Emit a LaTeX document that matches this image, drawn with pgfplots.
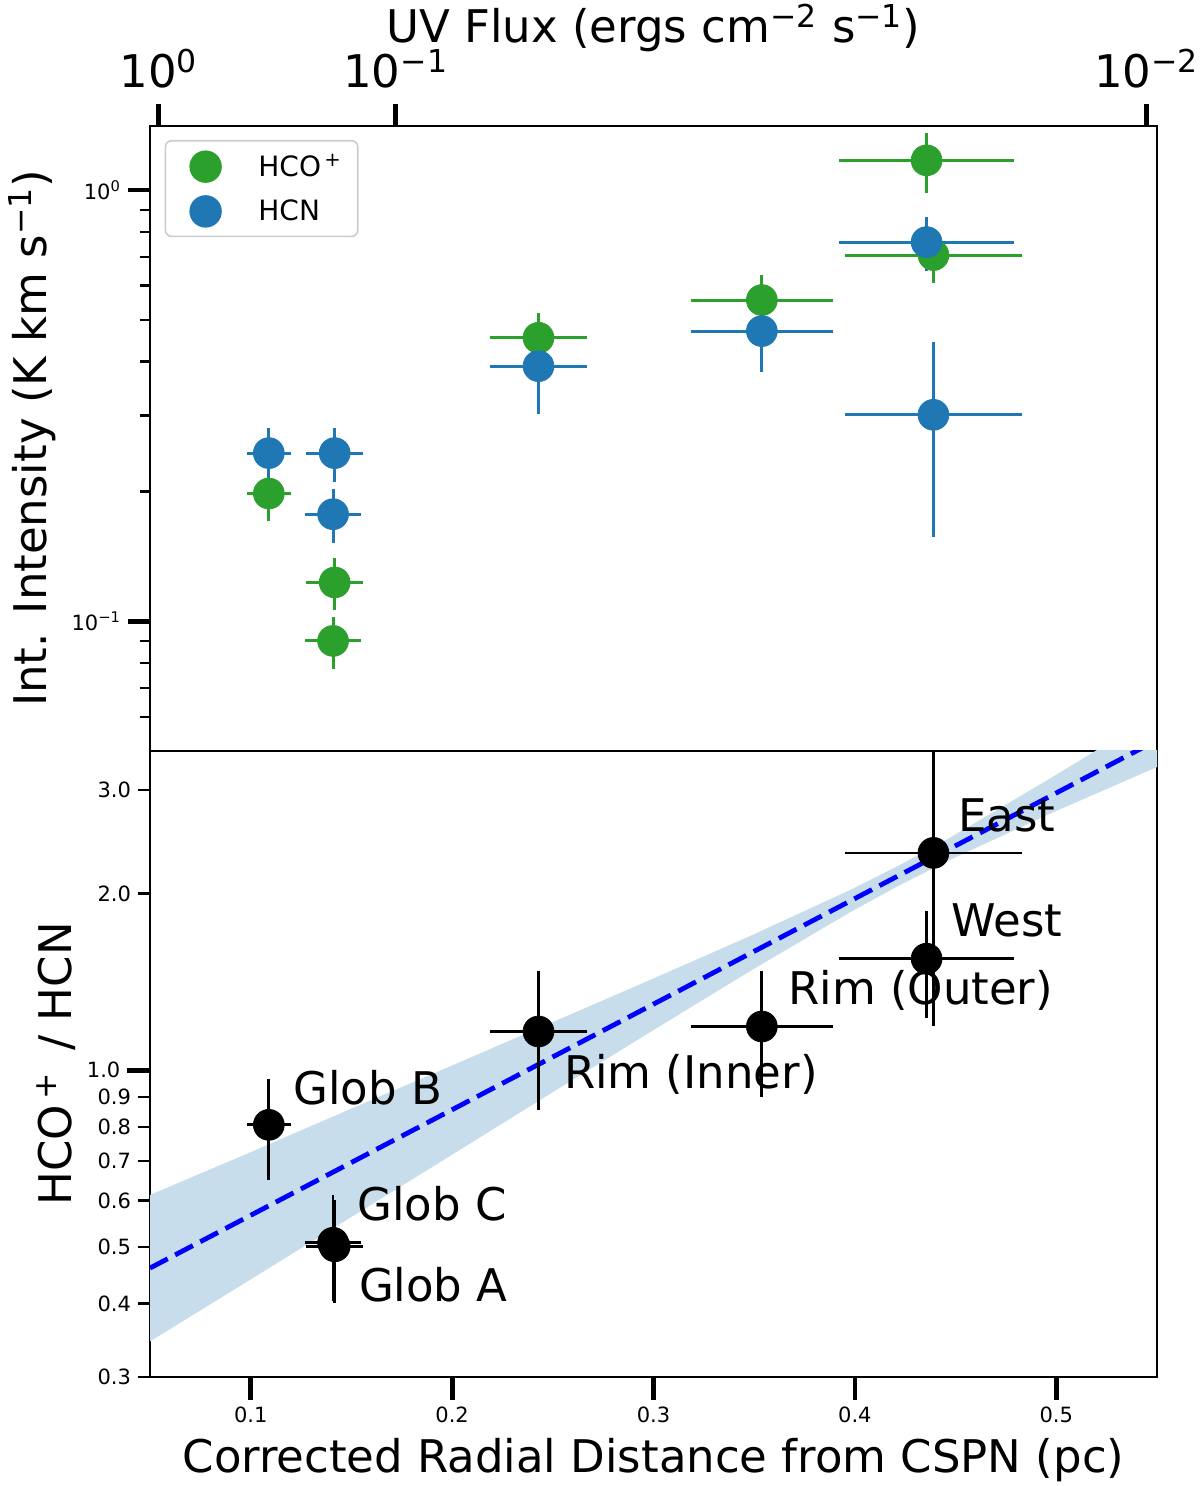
\documentclass[border=0pt]{standalone}
\usepackage{fontspec}
\setmainfont{DejaVu Sans}
\usepackage{pgfplots}
\usepackage{pgfplotstable}
\pgfplotsset{compat=1.18}

\definecolor{hcogreen}{HTML}{2CA02C}
\definecolor{hcnblue}{HTML}{1F77B4}
\definecolor{bandblue}{HTML}{C7DDEC}

\newcommand\labelfont{\fontsize{22.5}{26}\selectfont}
\newcommand\tickfont{\fontsize{10.5}{12}\selectfont}
\newcommand\legfont{\fontsize{14}{16}\selectfont}

% distance (pc), x error, intensity / ratio, y error
\pgfplotstableread{
x ex y ey
0.1090 0.0108 0.1978 0.027
0.1417 0.0140 0.1230 0.017
0.1409 0.0140 0.0900 0.0125
0.2429 0.0241 0.4543 0.063
0.3538 0.0354 0.5557 0.078
0.4356 0.0435 1.172 0.186
0.4390 0.0438 0.7067 0.097
}\hcodata

\pgfplotstableread{
x ex y ey
0.1090 0.0108 0.2454 0.035
0.1417 0.0140 0.2454 0.035
0.1409 0.0140 0.1771 0.025
0.2429 0.0241 0.3905 0.0885
0.3538 0.0354 0.4708 0.093
0.4356 0.0435 0.7574 0.107
0.4390 0.0438 0.3011 0.144
}\hcndata

\pgfplotstableread{
x ex y ey
0.1090 0.0108 0.807 0.158
0.1417 0.0140 0.501 0.100
0.1409 0.0140 0.508 0.104
0.2429 0.0241 1.164 0.310
0.3538 0.0354 1.187 0.287
0.4356 0.0435 1.549 0.320
0.4390 0.0438 2.346 1.156
}\ratiodata

% confidence band: upper edge then lower edge back
\pgfplotstableread{
x y
0.0500 0.613
0.1000 0.725
0.1496 0.859
0.1992 1.016
0.2488 1.203
0.2983 1.425
0.3479 1.693
0.3975 2.027
0.4223 2.237
0.4471 2.489
0.4966 3.138
0.5500 4.053
0.5500 3.286
0.4966 2.734
0.4471 2.282
0.4223 2.068
0.3975 1.858
0.3479 1.475
0.2983 1.161
0.2488 0.912
0.1992 0.715
0.1496 0.561
0.1000 0.440
0.0500 0.345
}\banddata

\begin{document}
\begin{tikzpicture}

\begin{axis}[
  ymode=log,
  scale only axis, width=503.5pt, height=312.5pt,
  at={(75pt,367.5pt)}, anchor=south west,
  xmin=0.05, xmax=0.55, ymin=0.05, ymax=1.408,
  axis line style={line width=1pt},
  tick align=outside,
  major tick style={line width=2.4pt, black},
  minor tick style={line width=1.25pt, black},
  tick label style={font=\tickfont},
  xtick pos=right, xticklabel pos=right,
  xtick={0.0543,0.1720,0.5448},
  xticklabels={10\textsuperscript{0},10\textsuperscript{−1},10\textsuperscript{−2}},
  xticklabel style={font=\labelfont, yshift=4.5pt},
  major tick length=11pt, minor tick length=5pt,
  ytick pos=left,
  ytick={0.1,1}, yticklabels={10\textsuperscript{−1},10\textsuperscript{0}},
  minor ytick={0.06,0.07,0.08,0.09,0.2,0.3,0.4,0.5,0.6,0.7,0.8,0.9},
  xlabel={UV Flux (ergs cm\textsuperscript{−2} s\textsuperscript{−1})},
  xlabel style={font=\labelfont, at={(axis description cs:0.5,1.1328)}, anchor=base, inner sep=0pt},
  ylabel={Int. Intensity (K km s\textsuperscript{−1})},
  ylabel style={font=\labelfont, at={(axis description cs:-0.1026,0.5)}, anchor=base, inner sep=0pt},
  legend style={at={(rel axis cs:0,1)}, anchor=north west, xshift=7.3pt, yshift=-7pt,
    draw=black!20, line width=0.8pt, rounded corners=3pt, fill=white,
    font=\legfont, inner xsep=6pt, inner ysep=4.5pt, row sep=6pt,
    /tikz/every odd column/.append style={column sep=16.3pt}},
  legend cell align=left,
  legend image code/.code={\path (0pt,0pt) (21.4pt,0pt);
    \draw[#1] plot coordinates {(13.7pt,0pt)};},
]
\addplot[hcogreen, only marks, mark=*, mark size=7.7pt, forget plot,
  error bars/.cd, x dir=both, x explicit, y dir=both, y explicit,
  error mark=none, error bar style={line width=1.5pt}]
  table[x=x, y=y, x error=ex, y error=ey] {\hcodata};
\addplot[hcnblue, only marks, mark=*, mark size=7.7pt, forget plot,
  error bars/.cd, x dir=both, x explicit, y dir=both, y explicit,
  error mark=none, error bar style={line width=1.5pt}]
  table[x=x, y=y, x error=ex, y error=ey] {\hcndata};
\addlegendimage{only marks, mark=*, mark size=7.7pt, hcogreen}
\addlegendentry{HCO\textsuperscript{\,+}}
\addlegendimage{only marks, mark=*, mark size=7.7pt, hcnblue}
\addlegendentry{HCN}
\end{axis}

\begin{axis}[
  ymode=log,
  scale only axis, width=503.5pt, height=313pt,
  at={(75pt,54.5pt)}, anchor=south west,
  xmin=0.05, xmax=0.55, ymin=0.3, ymax=3.5,
  axis line style={line width=1pt},
  tick align=outside,
  major tick style={line width=2.4pt, black},
  minor tick style={line width=1.25pt, black},
  tick label style={font=\tickfont},
  xtick pos=left, ytick pos=left,
  major tick length=11.3pt,
  xtick={0.1,0.2,0.3,0.4,0.5},
  xticklabels={0.1,0.2,0.3,0.4,0.5},
  ytick={1}, yticklabels={1.0},
  minor ytick={},
  extra y ticks={0.3,0.4,0.5,0.6,0.7,0.8,0.9,2,3},
  extra y tick labels={0.3,0.4,0.5,0.6,0.7,0.8,0.9,2.0,3.0},
  extra y tick style={major tick length=6pt, major tick style={line width=1.25pt}},
  xlabel={Corrected Radial Distance from CSPN (pc)},
  xlabel style={font=\labelfont, at={(axis description cs:0.5,-0.1529)}, anchor=base, inner sep=0pt},
  ylabel={HCO\textsuperscript{\,+}\, / HCN},
  ylabel style={font=\labelfont, at={(axis description cs:-0.0778,0.5)}, anchor=base, inner sep=0pt},
]
\addplot[fill=bandblue, draw=none, forget plot] table[x=x, y=y] {\banddata};
\addplot[blue, line width=2.4pt, dash pattern=on 10pt off 4.2pt, forget plot]
  coordinates {(0.05,0.460) (0.55,3.652)};
\addplot[black, only marks, mark=*, mark size=7.7pt, forget plot,
  error bars/.cd, x dir=both, x explicit, y dir=both, y explicit,
  error mark=none, error bar style={line width=1.4pt}]
  table[x=x, y=y, x error=ex, y error=ey] {\ratiodata};

\node[anchor=base west, inner sep=0pt, font=\labelfont] at (axis cs:0.1211,0.8752) {Glob B};
\node[anchor=base west, inner sep=0pt, font=\labelfont] at (axis cs:0.1528,0.5543) {Glob C};
\node[anchor=base west, inner sep=0pt, font=\labelfont] at (axis cs:0.1536,0.4027) {Glob A};
\node[anchor=base west, inner sep=0pt, font=\labelfont] at (axis cs:0.2554,0.9319) {Rim (Inner)};
\node[anchor=base west, inner sep=0pt, font=\labelfont] at (axis cs:0.3667,1.295) {Rim (Outer)};
\node[anchor=base west, inner sep=0pt, font=\labelfont] at (axis cs:0.4478,1.687) {West};
\node[anchor=base west, inner sep=0pt, font=\labelfont] at (axis cs:0.4511,2.550) {East};
\end{axis}

\pgfresetboundingbox
\path[use as bounding box] (0,0) rectangle (600pt,743pt);
\end{tikzpicture}
\end{document}
